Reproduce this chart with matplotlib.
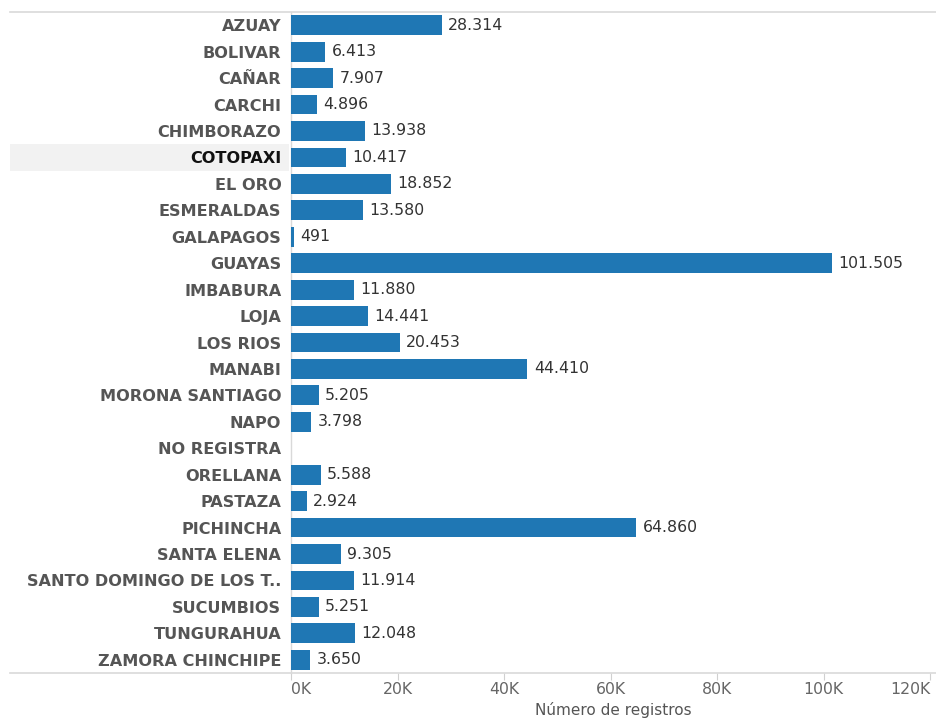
import matplotlib
matplotlib.use("Agg")
import matplotlib.pyplot as plt
from matplotlib.lines import Line2D
from matplotlib.patches import Rectangle
import numpy as np

plt.rcParams['font.family'] = ['DejaVu Sans']

provinces = ["AZUAY", "BOLIVAR", "CAÑAR", "CARCHI", "CHIMBORAZO", "COTOPAXI", "EL ORO",
             "ESMERALDAS", "GALAPAGOS", "GUAYAS", "IMBABURA", "LOJA", "LOS RIOS", "MANABI",
             "MORONA SANTIAGO", "NAPO", "NO REGISTRA", "ORELLANA", "PASTAZA", "PICHINCHA",
             "SANTA ELENA", "SANTO DOMINGO DE LOS T..", "SUCUMBIOS", "TUNGURAHUA",
             "ZAMORA CHINCHIPE"]
values = [28314, 6413, 7907, 4896, 13938, 10417, 18852, 13580, 491, 101505, 11880, 14441,
          20453, 44410, 5205, 3798, None, 5588, 2924, 64860, 9305, 11914, 5251, 12048, 3650]
highlight = "COTOPAXI"
xticks = [0, 20000, 40000, 60000, 80000, 100000, 120000]
xtick_labels = ["0K", "20K", "40K", "60K", "80K", "100K", "120K"]
xlabel = "Número de registros"

W, H = 936, 718
fig = plt.figure(figsize=(W / 100, H / 100), dpi=100)
ax_left, ax_right, ax_top, ax_bot = 291, 936, 12, 673
ax = fig.add_axes([ax_left / W, (H - ax_bot) / H, (ax_right - ax_left) / W, (ax_bot - ax_top) / H])

n = len(provinces)
ypos = np.arange(n)
vals = np.array([np.nan if v is None else v for v in values], dtype=float)
bar_color = "#1f77b4"
ax.barh(ypos, np.nan_to_num(vals), height=0.75, color=bar_color, zorder=3)

xmax = 120000 * (ax_right - ax_left) / (930 - ax_left)
ax.set_xlim(0, xmax)
ax.set_ylim(n - 0.5, -0.5)

for i, v in enumerate(values):
    if v is None:
        continue
    ax.annotate(f"{v:,}".replace(",", "."), xy=(v, i), xytext=(4.5, 0),
                textcoords="offset points", va="center", ha="left",
                fontsize=11.3, color="#333333", zorder=4)

ax.set_yticks(ypos)
ax.set_yticklabels(provinces)
for lab in ax.get_yticklabels():
    lab.set_fontweight("bold")
    lab.set_fontsize(11.6)
    lab.set_color("#111111" if lab.get_text() == highlight else "#555555")
ax.tick_params(axis="y", length=0, pad=7)

ax.set_xticks(xticks)
ax.set_xticklabels(xtick_labels, fontsize=11.3, color="#666666")
ax.get_xticklabels()[0].set_horizontalalignment("left")
ax.get_xticklabels()[-1].set_horizontalalignment("right")
ax.tick_params(axis="x", length=5, color="#d0d0d0", pad=1.5)
ax.set_xlabel(xlabel, fontsize=11, color="#555555", labelpad=3.5)

for s in ["top", "right", "bottom"]:
    ax.spines[s].set_visible(False)
ax.spines["left"].set_color("#d9d9d9")
ax.spines["left"].set_linewidth(1.0)

# highlight band for selected row
hi = provinces.index(highlight)
row_h = (ax_bot - ax_top) / n
y_top = ax_top + hi * row_h
fig.add_artist(Rectangle((10 / W, (H - y_top - row_h) / H), (289 - 10) / W, row_h / H,
                         transform=fig.transFigure, facecolor="#f2f2f2", edgecolor="none", zorder=0))

# top and bottom horizontal rules
for yy in (ax_top, ax_bot):
    fig.add_artist(Line2D([10 / W, 1.0], [(H - yy) / H] * 2, transform=fig.transFigure,
                          color="#d9d9d9", linewidth=1.2))

fig.savefig("out.png", dpi=100)
